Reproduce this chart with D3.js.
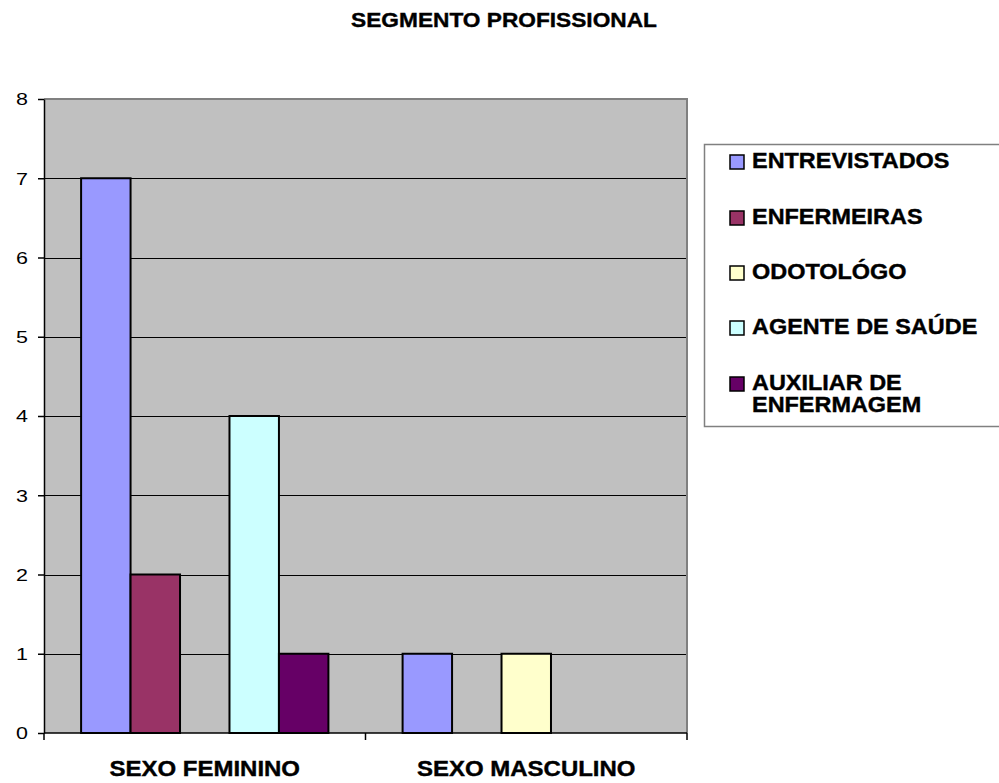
<!DOCTYPE html>
<html>
<head>
<meta charset="utf-8">
<script src="https://cdn.jsdelivr.net/npm/d3@7"></script>
<style>
  html, body { margin: 0; padding: 0; background: #fff; }
  svg { display: block; }
  text { font-family: Arial, "Liberation Sans", sans-serif; fill: #000; }
  text.bold { stroke: #000; stroke-width: 0.4px; }
</style>
</head>
<body>
<svg id="chart" width="999" height="783"></svg>
<script>
const title = "SEGMENTO PROFISSIONAL";
const categories = ["SEXO FEMININO", "SEXO MASCULINO"];
const seriesNames = ["ENTREVISTADOS", "ENFERMEIRAS", "ODOTOLÓGO", "AGENTE DE SAÚDE", "AUXILIAR DE ENFERMAGEM"];
const seriesLegendLines = [["ENTREVISTADOS"], ["ENFERMEIRAS"], ["ODOTOLÓGO"], ["AGENTE DE SAÚDE"], ["AUXILIAR DE", "ENFERMAGEM"]];
const entrevistados = [7, 1];
const enfermeiras = [2, 0];
const odotologo = [0, 1];
const agenteDeSaude = [4, 0];
const auxiliarDeEnfermagem = [1, 0];
const seriesValues = [entrevistados, enfermeiras, odotologo, agenteDeSaude, auxiliarDeEnfermagem];
const seriesColors = ["#9999FF", "#993366", "#FFFFCC", "#CCFFFF", "#660066"];
const yTicks = [0, 1, 2, 3, 4, 5, 6, 7, 8];

const svg = d3.select("#chart");
const plot = { left: 44, right: 687, top: 99, bottom: 733 };

const x0 = d3.scaleBand().domain(categories).range([plot.left, plot.right]).paddingInner(0).paddingOuter(0);
const x1 = d3.scaleBand().domain(seriesNames).range([0, x0.bandwidth()]).paddingInner(0).paddingOuter(0.75);
const y = d3.scaleLinear().domain([0, 8]).range([plot.bottom, plot.top]);

function stretch(sel, f) {
  sel.each(function() {
    const w = this.getComputedTextLength();
    d3.select(this).attr("textLength", w * f).attr("lengthAdjust", "spacingAndGlyphs");
  });
}

svg.append("rect")
  .attr("x", plot.left).attr("y", plot.top)
  .attr("width", plot.right - plot.left).attr("height", plot.bottom - plot.top)
  .attr("fill", "#C0C0C0");

svg.append("g").selectAll("line")
  .data(yTicks.filter(t => t > 0 && t < 8))
  .join("line")
  .attr("x1", plot.left).attr("x2", plot.right)
  .attr("y1", d => Math.round(y(d)) + 0.5).attr("y2", d => Math.round(y(d)) + 0.5)
  .attr("stroke", "#000").attr("stroke-width", 1);

svg.append("path")
  .attr("d", `M${plot.left},${plot.top} H${plot.right} V${plot.bottom}`)
  .attr("fill", "none").attr("stroke", "#808080").attr("stroke-width", 2);

const barData = [];
categories.forEach((c, ci) => {
  seriesNames.forEach((s, si) => {
    const v = seriesValues[si][ci];
    if (v > 0) barData.push({ c, s, v, color: seriesColors[si] });
  });
});
svg.append("g").selectAll("rect")
  .data(barData)
  .join("rect")
  .attr("x", d => x0(d.c) + x1(d.s))
  .attr("y", d => y(d.v))
  .attr("width", x1.bandwidth())
  .attr("height", d => y(0) - y(d.v))
  .attr("fill", d => d.color)
  .attr("stroke", "#000").attr("stroke-width", 2);

const yAxis = svg.append("g").attr("transform", `translate(${plot.left},0)`)
  .call(d3.axisLeft(y).tickValues(yTicks).tickSize(6).tickPadding(10).tickSizeOuter(0));
yAxis.select(".domain").attr("stroke", "#000").attr("stroke-width", 1.5);
yAxis.selectAll(".tick line").attr("stroke", "#000").attr("stroke-width", 1.5);
yAxis.selectAll(".tick text")
  .attr("font-size", 16.5).attr("font-family", "Arial, 'Liberation Sans', sans-serif")
  .attr("x", -16).attr("dy", "0.36em").attr("fill", "#000");
stretch(yAxis.selectAll(".tick text"), 1.3);

svg.append("line")
  .attr("x1", plot.left).attr("x2", plot.right)
  .attr("y1", plot.bottom).attr("y2", plot.bottom)
  .attr("stroke", "#000").attr("stroke-width", 1.5);
const boundaries = [plot.left].concat(categories.map(c => x0(c) + x0.bandwidth()));
svg.append("g").selectAll("line")
  .data(boundaries)
  .join("line")
  .attr("x1", d => d).attr("x2", d => d)
  .attr("y1", plot.bottom).attr("y2", plot.bottom + 7)
  .attr("stroke", "#000").attr("stroke-width", 1.5);
const catLabels = svg.append("g").selectAll("text")
  .data(categories)
  .join("text")
  .attr("class", "bold")
  .attr("x", d => x0(d) + x0.bandwidth() / 2)
  .attr("y", 776)
  .attr("text-anchor", "middle")
  .attr("font-size", 22).attr("font-weight", "bold")
  .text(d => d);
stretch(catLabels, 1.09);

const t = svg.append("text")
  .attr("class", "bold")
  .attr("x", 504).attr("y", 27)
  .attr("text-anchor", "middle")
  .attr("font-size", 21).attr("font-weight", "bold")
  .text(title);
stretch(t, 1.08);

const lg = svg.append("g");
lg.append("rect")
  .attr("x", 704.5).attr("y", 144.5).attr("width", 310).attr("height", 282)
  .attr("fill", "#fff").attr("stroke", "#808080").attr("stroke-width", 1.5);
const baselines = [168, 224, 279, 334, 390];
seriesNames.forEach((s, i) => {
  const by = baselines[i];
  lg.append("rect")
    .attr("x", 730).attr("y", by - 13).attr("width", 14).attr("height", 14)
    .attr("fill", seriesColors[i]).attr("stroke", "#000").attr("stroke-width", 1.5);
  seriesLegendLines[i].forEach((ln, li) => {
    const tx = lg.append("text")
      .attr("class", "bold")
      .attr("x", 752).attr("y", by + li * 22)
      .attr("font-size", 21.5).attr("font-weight", "bold")
      .text(ln);
    stretch(tx, 1.09);
  });
});
</script>
</body>
</html>
